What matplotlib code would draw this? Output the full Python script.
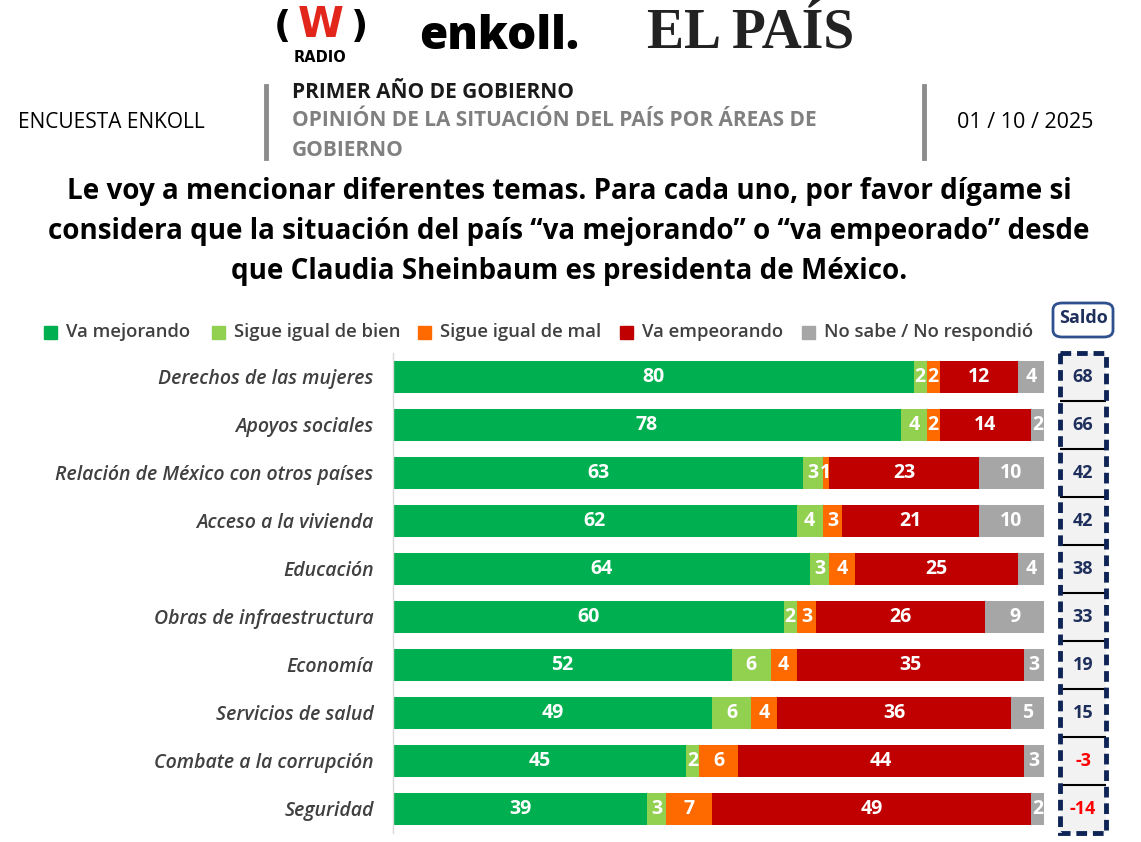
import matplotlib
matplotlib.use("Agg")
import matplotlib.pyplot as plt
from matplotlib.patches import Rectangle, FancyBboxPatch
import numpy as np

# ---------------- data ----------------
categories = [
    "Derechos de las mujeres",
    "Apoyos sociales",
    "Relación de México con otros países",
    "Acceso a la vivienda",
    "Educación",
    "Obras de infraestructura",
    "Economía",
    "Servicios de salud",
    "Combate a la corrupción",
    "Seguridad",
]
va_mejorando = [80, 78, 63, 62, 64, 60, 52, 49, 45, 39]
sigue_bien = [2, 4, 3, 4, 3, 2, 6, 6, 2, 3]
sigue_mal = [2, 2, 1, 3, 4, 3, 4, 4, 6, 7]
va_empeorando = [12, 14, 23, 21, 25, 26, 35, 36, 44, 49]
no_sabe = [4, 2, 10, 10, 4, 9, 3, 5, 3, 2]
saldo = [68, 66, 42, 42, 38, 33, 19, 15, -3, -14]

series_names = ["Va mejorando", "Sigue igual de bien", "Sigue igual de mal",
                "Va empeorando", "No sabe / No respondió"]
series_values = [va_mejorando, sigue_bien, sigue_mal, va_empeorando, no_sabe]
series_colors = ["#00B050", "#92D050", "#FF6A00", "#C00000", "#A6A6A6"]

# ---------------- figure ----------------
W, H = 1141, 842
fig = plt.figure(figsize=(W / 100, H / 100), dpi=100)
fig.patch.set_facecolor("white")
FONT = "Open Sans"


def fx(x):
    return x / W


def fy(y):
    return 1 - y / H


def ftext(x, y, s, **kw):
    kw.setdefault("family", FONT)
    return fig.text(fx(x), fy(y), s, **kw)


# ---------------- logos ----------------
ftext(282, 27, "(", fontsize=27, color="black", ha="center", va="center",
      family="DejaVu Sans", fontweight="bold")
ftext(360, 27, ")", fontsize=27, color="black", ha="center", va="center",
      family="DejaVu Sans", fontweight="bold")
ftext(321, 25, "W", fontsize=30, color="#E3261C", ha="center", va="center",
      fontweight="bold", family="DejaVu Sans")
ftext(320, 57, "RADIO", fontsize=10.5, color="black", ha="center", va="center",
      fontweight="bold", family="DejaVu Sans")
ftext(499, 37, "enkoll.", fontsize=33, color="black", ha="center", va="center",
      fontweight="heavy", family="Open Sans")
ftext(751, 34, "EL PAÍS", fontsize=40, color="#222222", ha="center",
      va="center", fontweight="bold", family="Liberation Serif")

# ---------------- header ----------------
ftext(18, 122, "ENCUESTA ENKOLL", fontsize=15, color="black", ha="left",
      va="center")
ftext(957, 122, "01 / 10 / 2025", fontsize=15.5, color="black", ha="left",
      va="center")
ftext(292, 92, "PRIMER AÑO DE GOBIERNO", fontsize=15, color="#1a1a1a",
      ha="left", va="center", fontweight="bold")
ftext(292, 121, "OPINIÓN DE LA SITUACIÓN DEL PAÍS POR ÁREAS DE",
      fontsize=15, color="#808080", ha="left", va="center",
      fontweight="bold")
ftext(292, 151, "GOBIERNO", fontsize=15, color="#808080", ha="left",
      va="center", fontweight="bold")
for xl in (266, 924):
    fig.add_artist(plt.Line2D([fx(xl), fx(xl)], [fy(86), fy(158)],
                              color="#8C8C8C", lw=3.5))

# question
question = ["Le voy a mencionar diferentes temas. Para cada uno, por favor dígame si",
            "considera que la situación del país “va mejorando” o “va empeorado” desde",
            "que Claudia Sheinbaum es presidenta de México."]
for i, line in enumerate(question):
    ftext(569, 192 + i * 40, line, fontsize=20, fontweight="bold",
          color="black", ha="center", va="center")

# ---------------- legend ----------------
legend_x = [50, 218, 424, 626, 808]
for name, col, x in zip(series_names, series_colors, legend_x):
    fig.add_artist(Rectangle((fx(x - 6), fy(339)), 13 / W, 13 / H,
                             transform=fig.transFigure, color=col))
    ftext(x + 16, 332, name, fontsize=13.3, color="#404040", ha="left",
          va="center", fontweight="semibold")

# ---------------- bars ----------------
ax = fig.add_axes([fx(393), fy(833), 651 / W, 480 / H])
ax.set_facecolor("none")
y = np.arange(len(categories))
left = np.zeros(len(categories))
for vals, col in zip(series_values, series_colors):
    vals = np.array(vals, dtype=float)
    ax.barh(y, vals, left=left, height=0.68, color=col, edgecolor="none",
            zorder=2)
    for yi, l, v in zip(y, left, vals):
        ax.text(l + v / 2, yi, f"{int(v)}", ha="center", va="center",
                color="white", fontsize=14, fontweight="bold", family=FONT,
                zorder=3)
    left += vals
ax.set_xlim(0, 100)
ax.set_ylim(len(categories) - 0.5, -0.5)
ax.set_xticks([])
ax.set_yticks(y)
ax.set_yticklabels(categories, fontsize=14, style="italic",
                   fontweight="semibold", color="#404040", family=FONT)
ax.tick_params(axis="y", length=0, pad=14)
for s in ["top", "right", "bottom"]:
    ax.spines[s].set_visible(False)
ax.spines["left"].set_color("#D9D9D9")
ax.spines["left"].set_linewidth(1)

# ---------------- saldo ----------------
ax2 = fig.add_axes([fx(1060), fy(833), 46 / W, 480 / H])
ax2.set_xlim(0, 1)
ax2.set_ylim(len(categories) - 0.5, -0.5)
ax2.axis("off")
for yi, s in zip(y, saldo):
    ax2.add_patch(Rectangle((0, yi - 0.5), 1, 1, facecolor="#F2F2F2",
                            edgecolor="none", zorder=1))
    ax2.text(0.5, yi, f"{s}", ha="center", va="center", fontsize=13,
             fontweight="bold", family=FONT,
             color="#1F2F5C" if s >= 0 else "#FF0000", zorder=3)
for yi in y[1:]:
    ax2.plot([0, 1], [yi - 0.5, yi - 0.5], color="black", lw=1.5, zorder=2,
             solid_capstyle="butt")
ax2.add_patch(Rectangle((0, -0.5), 1, len(categories), facecolor="none",
                        edgecolor="#0F2456", lw=3.5, linestyle=(0, (2.2, 1.2)),
                        zorder=4, clip_on=False))

# saldo header box
fig.add_artist(FancyBboxPatch((fx(1053), fy(337)), 60 / W, 34 / H,
                              boxstyle="round,pad=0,rounding_size=0.008",
                              transform=fig.transFigure, facecolor="white",
                              edgecolor="#2F4F8F", lw=2))
ftext(1083, 318, "Saldo", fontsize=13, fontweight="bold", color="#1F2F5C",
      ha="center", va="center")

fig.savefig("out.png", dpi=100)
